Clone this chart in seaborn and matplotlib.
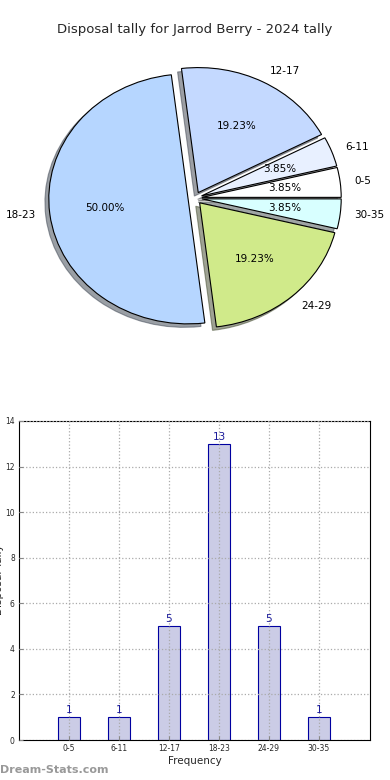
import numpy as np
import seaborn as sns
import matplotlib
matplotlib.use('Agg')
import matplotlib.pyplot as plt

# Данные
age_groups = ['0-5', '6-11', '12-17', '18-23', '24-29', '30-35']
tally = [1, 1, 5, 13, 5, 1]
pie_colors = ['#ffffff', '#e8f0ff', '#c4d9ff', '#b6d6ff', '#d0ea8a', '#d8ffff']
explode = [0.05] * len(tally)

sns.set_style('white')
plt.rcParams['font.family'] = ['DejaVu Sans']

fig = plt.figure(figsize=(3.9, 7.8), dpi=100)

# Круговая диаграмма (слегка сплюснутая, как в оригинале)
ax_pie = fig.add_axes([0, 0.496, 1, 0.5])
ax_pie.pie(tally, labels=age_groups, colors=pie_colors, explode=explode,
           autopct='%1.2f%%', startangle=0, shadow=True,
           wedgeprops={'edgecolor': 'black', 'linewidth': 0.8},
           textprops={'fontsize': 7.5, 'color': 'black'})
ax_pie.set_aspect('auto')
ax_pie.set_xlim(-1.4, 1.4)
ax_pie.set_ylim(-1.56, 1.56)
ax_pie.axis('off')

fig.text(0.5, 1 - 30 / 780, 'Disposal tally for Jarrod Berry - 2024 tally',
         ha='center', va='center', fontsize=9.5)

# Столбчатая диаграмма
ax_bar = fig.add_axes([19 / 390, 40 / 780, 351 / 390, 319 / 780])
sns.barplot(x=age_groups, y=tally, ax=ax_bar, width=0.45,
            color='#cbcce6', edgecolor='#0000a0', linewidth=0.8, saturation=1)
for i, v in enumerate(tally):
    ax_bar.text(i, v + 0.1, str(v), ha='center', va='bottom',
                fontsize=7.5, color='#1a1a9a')
ax_bar.set_xlim(-1, 6.02)
ax_bar.set_ylim(0, 14)
ax_bar.set_yticks(range(0, 15, 2))
ax_bar.grid(True, linestyle=':', color='#aaaaaa', linewidth=0.9)
ax_bar.set_axisbelow(False)
for sp in ax_bar.spines.values():
    sp.set_visible(True)
    sp.set_color('black')
    sp.set_linewidth(0.8)
ax_bar.tick_params(axis='both', labelsize=5.5, direction='in', length=3,
                   color='#888888', bottom=True, left=True, pad=3)
ax_bar.set_xlabel('Frequency', fontsize=7.5, labelpad=2)
ax_bar.set_ylabel('')
fig.text(-1 / 390, 1 - 580 / 780, 'Disposal Tally', rotation=90,
         ha='center', va='center', fontsize=7.5)

fig.text(0.0, 1 - 770 / 780, 'Dream-Stats.com', ha='left', va='center',
         fontsize=8, color='#999999', fontweight='bold')

fig.savefig('out.png', dpi=100)
